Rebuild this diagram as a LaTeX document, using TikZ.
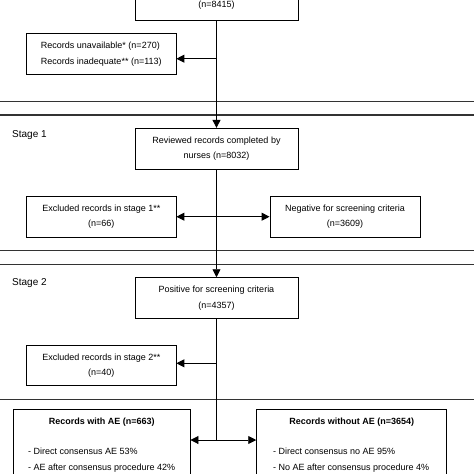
\documentclass[tikz,border=0pt]{standalone}
\usepackage{fontspec}
\setmainfont{Liberation Sans}
\usetikzlibrary{arrows.meta}
\begin{document}
\begin{tikzpicture}[x=1pt,y=-1pt,
  box/.style={draw, line width=0.9pt, rectangle, inner sep=0pt, font=\fontsize{9}{15.5}\selectfont, align=center},
  txt/.style={inner sep=0pt, font=\fontsize{9}{15.5}\selectfont},
  titletxt/.style={inner sep=0pt, font=\fontsize{9}{15.5}\selectfont\bfseries},
  stagelbl/.style={inner sep=0pt, font=\fontsize{10}{12}\selectfont, anchor=west},
  sep/.style={line width=1.1pt, black!80},
  trunk/.style={line width=0.9pt},
  arr/.style={line width=0.9pt, -{Triangle[length=8pt,width=8pt]}},
  darr/.style={line width=0.9pt, {Triangle[length=8pt,width=8pt]}-{Triangle[length=8pt,width=8pt]}}]
\useasboundingbox (0,0) rectangle (474,474);
\clip (0,0) rectangle (474,474);
\fill[white] (0,0) rectangle (474,474);

% stage separators
\draw[sep] (0,101.7) -- (474,101.7);
\draw[sep] (0,115) -- (474,115);
\draw[sep] (0,250.7) -- (474,250.7);
\draw[sep] (0,264.3) -- (474,264.3);
\draw[sep] (0,399.3) -- (474,399.3);

% stage labels
\node[stagelbl] (s1) at (12,135) {Stage 1};
\node[stagelbl] (s2) at (12,283.3) {Stage 2};

% boxes
\node[box, minimum width=163pt, minimum height=50pt, anchor=south] (top) at (216.5,20.7) {};
\node[txt] (topn) at (216.5,5) {(n=8415)};

\node[box, minimum width=149.3pt, minimum height=41pt, align=left] (unav) at (101.3,54.2)
  {Records unavailable* (n=270)\\Records inadequate** (n=113)};

\node[box, minimum width=163pt, minimum height=41pt] (reviewed) at (216.5,148.8)
  {Reviewed records completed by\\nurses (n=8032)};

\node[box, minimum width=149.3pt, minimum height=41.3pt] (excl1) at (101.3,216.7)
  {Excluded records in stage 1**\\(n=66)};
\node[box, minimum width=150pt, minimum height=41.3pt] (neg) at (345,216.7)
  {Negative for screening criteria\\(n=3609)};

\node[box, minimum width=163pt, minimum height=41pt] (positive) at (216.5,298.2)
  {Positive for screening criteria\\(n=4357)};

\node[box, minimum width=149.3pt, minimum height=40pt] (excl2) at (101.3,365.7)
  {Excluded records in stage 2**\\(n=40)};

\node[box, minimum width=176.7pt, minimum height=100pt, anchor=north] (withae) at (101.65,409.3) {};
\node[box, minimum width=190pt, minimum height=100pt, anchor=north] (withoutae) at (351.7,409.3) {};

\node[titletxt] (t1) at ([yshift=-12.4pt]withae.north) {Records with AE (n=663)};
\node[txt, anchor=west] (a1) at ([xshift=15pt,yshift=-42.4pt]withae.north west) {- Direct consensus AE 53\%};
\node[txt, anchor=west] (a2) at ([xshift=15pt,yshift=-58.4pt]withae.north west) {- AE after consensus procedure 42\%};

\node[titletxt] (t2) at ([yshift=-12.4pt]withoutae.north) {Records without AE (n=3654)};
\node[txt, anchor=west] (b1) at ([xshift=16.6pt,yshift=-42.4pt]withoutae.north west) {- Direct consensus no AE 95\%};
\node[txt, anchor=west] (b2) at ([xshift=16.6pt,yshift=-58.4pt]withoutae.north west) {- No AE after consensus procedure 4\%};

% connectors
\coordinate (j0) at (216.5,58.7);
\coordinate (j2) at (216.5,363.3);
\coordinate (j3) at (216.5,440);

\draw[arr] (top.south) -- (reviewed.north);
\draw[arr] (j0) -- (j0 -| unav.east);

\draw[arr] (reviewed.south) -- (positive.north);
\draw[darr] (excl1.east) -- (neg.west);

\draw[trunk] (positive.south) -- (j3);
\draw[arr] (j2) -- (j2 -| excl2.east);
\draw[darr] (withae.east |- j3) -- (withoutae.west |- j3);
\end{tikzpicture}
\end{document}
